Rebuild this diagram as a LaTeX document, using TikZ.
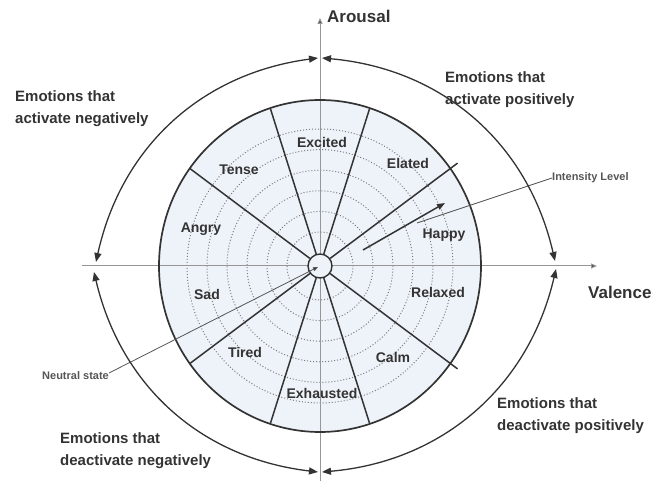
\documentclass[tikz,border=0pt]{standalone}
\usepackage{fontspec}
\setmainfont{Liberation Sans}
\usetikzlibrary{arrows.meta, positioning}
\definecolor{ink}{RGB}{51,51,51}
\definecolor{axisgray}{RGB}{150,150,150}
\definecolor{dotgray}{RGB}{125,125,125}
\definecolor{notegray}{RGB}{85,85,85}
\definecolor{wheelfill}{RGB}{238,243,250}

\begin{document}
\begin{tikzpicture}[x=1pt, y=1pt,
    emotion/.style={font=\fontsize{14}{16}\selectfont\bfseries, text=ink},
    grouptext/.style={font=\fontsize{15}{22}\selectfont\bfseries, text=ink, align=left, anchor=west, inner sep=0pt},
    axistext/.style={font=\fontsize{17}{20}\selectfont\bfseries, text=ink, anchor=west, inner sep=0pt},
    notetext/.style={font=\fontsize{11}{13}\selectfont\bfseries, text=notegray, anchor=west, inner sep=0pt},
    spoke/.style={draw=ink, line width=1.5pt},
    swing/.style={{Triangle[length=9pt,width=7pt]}-{Triangle[length=9pt,width=7pt]}, draw=ink, line width=1.3pt}]
  \useasboundingbox (-320,-215) rectangle (346,266);

  \fill[wheelfill] (0,0) ellipse [x radius=161, y radius=166];
  \foreach \r in {33,53,73,93,113,133}
    \draw[dotgray, dotted, line width=1pt] (0,0) ellipse [x radius=\r, y radius=1.03*\r];

  \coordinate (vx0) at (-238,0);
  \coordinate (vx) at (277,0);
  \coordinate (ay0) at (0,-215);
  \coordinate (ay) at (0,248);
  \draw[axisgray, line width=1pt, -{Triangle[length=6pt,width=5pt,fill=ink]}] (vx0) -- (vx);
  \draw[axisgray, line width=1pt, -{Triangle[length=6pt,width=5pt,fill=ink]}] (ay0) -- (ay);
  \node[axistext] (arousal) at (7,250) {Arousal};
  \node[axistext] (valence) at (268,-26) {Valence};

  \node[circle, draw=ink, fill=wheelfill, line width=1.4pt, minimum size=24pt, inner sep=0pt] (hub) at (0,0) {};
  \foreach \a in {72,108,144,216,252,288}
    \draw[spoke] (hub) -- (\a:161 and 166);
  \draw[spoke] (hub) -- (36:170 and 175);
  \draw[spoke] (hub) -- (-36:170 and 175);
  \draw[ink, line width=1.7pt] (0,0) ellipse [x radius=161, y radius=166];

  \node[emotion] (excited) at (2,123) {Excited};
  \node[emotion] (elated) at (88,103) {Elated};
  \node[emotion] (tense) at (-81,96) {Tense};
  \node[emotion] (angry) at (-119,37) {Angry};
  \node[emotion] (happy) at (124,31) {Happy};
  \node[emotion] (sad) at (-113,-28) {Sad};
  \node[emotion] (relaxed) at (118,-26) {Relaxed};
  \node[emotion] (tired) at (-75,-86) {Tired};
  \node[emotion] (calm) at (73,-91) {Calm};
  \node[emotion] (exhausted) at (2,-127) {Exhausted};

  \coordinate (lvl0) at (43,16);
  \coordinate (lvl1) at (125,63);
  \coordinate (lvlpin) at (97,43);
  \draw[spoke, -{Triangle[length=8pt,width=6pt]}] (lvl0) -- (lvl1);
  \node[notetext] (intensity) at (232,88) {Intensity Level};
  \draw[notegray, line width=0.8pt] (intensity.west) -- (lvlpin);

  \coordinate (rest) at (-2,-1);
  \node[notetext] (neutral) at (-278,-110) {Neutral state};
  \draw[notegray, line width=0.8pt, -{Triangle[length=5pt,width=4pt,fill=ink]}] ([yshift=3pt]neutral.east) -- (rest);

  \node[grouptext] (actneg) at (-305,157) {Emotions that\\activate negatively};
  \node[grouptext] (actpos) at (125,176) {Emotions that\\activate positively};
  \node[grouptext] (deactneg) at (-260,-185) {Emotions that\\deactivate negatively};
  \node[grouptext] (deactpos) at (177,-150) {Emotions that\\deactivate positively};

  \coordinate (topL) at (-2,208);
  \coordinate (topR) at (2,208);
  \coordinate (leftU) at (-224,4);
  \coordinate (leftD) at (-226,-6);
  \coordinate (rightU) at (235,5);
  \coordinate (rightD) at (236,-3);
  \coordinate (botL) at (-2,-206);
  \coordinate (botR) at (2,-206);
  \draw[swing] (topL) to[bend right=35] (leftU);
  \draw[swing] (topR) to[bend left=36] (rightU);
  \draw[swing] (botL) to[bend left=35] (leftD);
  \draw[swing] (botR) to[bend right=36] (rightD);
\end{tikzpicture}
\end{document}
